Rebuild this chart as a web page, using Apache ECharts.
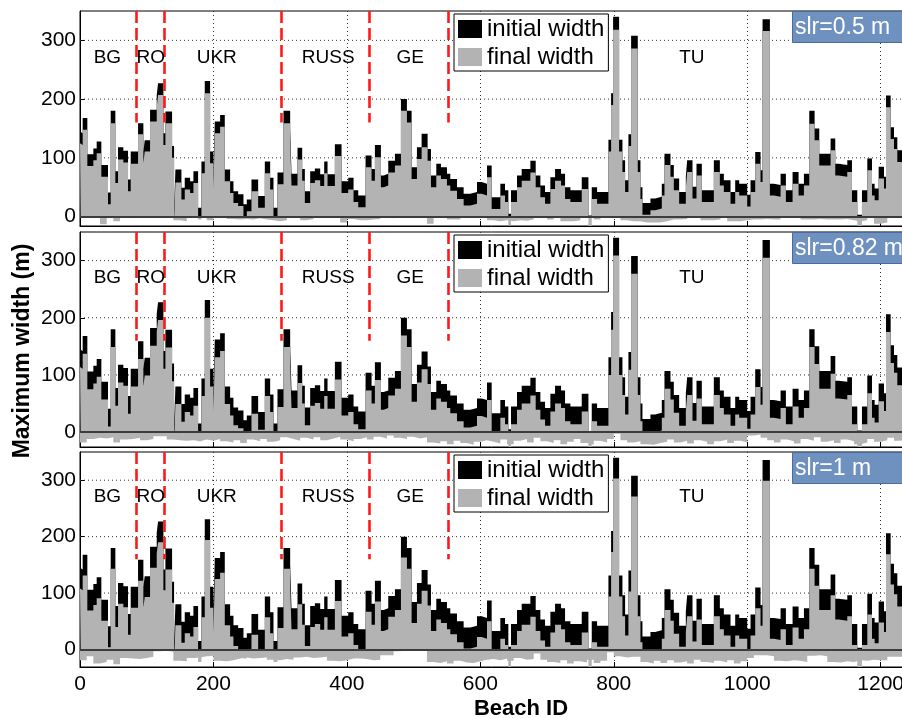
<!DOCTYPE html>
<html><head><meta charset="utf-8">
<script src="https://cdn.jsdelivr.net/npm/echarts@6/dist/echarts.min.js"></script>
<style>html,body{margin:0;padding:0;background:#fff}#c{width:902px;height:718px}</style>
</head><body><div id="c"></div>
<script>
// Beach ID where each block of beaches starts
const segStart = [0,1,4,11,20,25,32,42,46,53,57,65,72,76,87,95,97,105,115,117,125,128,138,141,143,152,157,165,170,177,182,187,195,200,202,210,217,225,230,237,245,250,257,267,277,285,290,296,305,315,317,326,333,337,345,352,360,366,371,382,392,402,410,417,428,437,442,451,455,462,472,481,490,497,505,512,521,526,534,541,550,555,565,575,585,595,602,610,617,630,637,642,646,655,662,675,683,690,697,705,712,721,727,735,752,762,767,775,792,796,799,808,813,817,822,826,836,840,843,855,862,872,876,885,890,898,908,910,918,924,932,950,959,965,975,982,988,1000,1005,1012,1020,1023,1034,1040,1050,1058,1068,1077,1085,1093,1101,1108,1125,1132,1137,1150,1157,1165,1172,1180,1187,1191,1197,1205,1208,1215,1220,1225];
// initial maximum width (m)
const initialWidth = [145,142,168,106,116,128,88,41,180,77,118,112,63,111,159,111,130,182,207,227,142,179,120,12,80,49,66,60,77,15,94,231,111,66,162,173,80,60,43,38,21,29,63,35,94,66,15,75,180,151,73,117,81,43,77,82,72,94,72,123,60,66,45,36,104,81,122,70,73,95,107,200,180,84,118,141,115,70,90,84,73,64,50,39,42,59,56,87,33,56,45,5,45,70,81,95,70,53,42,67,81,73,50,45,67,2,50,42,131,210,340,131,96,62,140,308,96,50,23,31,34,56,107,88,65,42,68,96,51,90,45,96,73,62,42,62,56,37,62,110,79,336,56,54,73,45,76,56,73,180,150,107,133,90,88,96,45,3,45,99,56,48,85,68,206,152,135,113];
// final width, slr = 0.5 m
const finalWidth05 = [125,122,148,86,96,108,68,21,159,57,97,92,43,90,140,91,111,162,187,207,122,159,100,-8,58,29,46,40,57,-5,74,210,91,46,142,153,60,40,23,18,1,9,43,15,74,46,-5,55,159,131,53,97,61,23,57,62,52,74,52,103,40,46,25,16,84,61,101,50,53,75,87,180,160,64,98,118,95,50,70,64,53,44,30,19,22,39,36,67,13,36,25,-15,25,50,61,75,50,33,22,47,61,53,30,25,47,-18,30,22,111,190,318,111,76,42,120,286,76,30,3,11,14,36,88,68,45,22,48,76,31,70,25,76,53,42,22,42,36,17,42,90,59,316,36,34,53,25,56,36,53,158,130,87,113,70,68,76,25,-17,25,79,36,28,65,48,186,132,115,93];
// final width, slr = 0.82 m
const finalWidth082 = [114,111,137,75,85,97,57,10,149,46,87,81,32,80,128,80,99,151,176,196,111,148,89,-19,49,18,35,29,46,-16,63,200,80,35,131,142,49,29,12,7,-10,-2,32,4,63,35,-16,44,149,120,42,86,50,12,46,51,41,63,41,92,29,35,14,5,73,50,91,39,42,64,76,169,149,53,87,110,84,39,59,53,42,33,19,8,11,28,25,56,2,25,14,-26,14,39,50,64,39,22,11,36,50,42,19,14,36,-29,19,11,100,179,309,100,65,31,109,277,65,19,-8,0,3,25,76,57,34,11,37,65,20,59,14,65,42,31,11,31,25,6,31,79,48,305,25,23,42,14,45,25,42,149,119,76,102,59,57,65,14,-28,14,68,25,17,54,37,175,121,104,82];
// final width, slr = 1 m
const finalWidth1 = [108,105,131,69,79,91,51,4,143,40,81,75,26,74,122,74,93,145,170,190,105,142,83,-25,43,12,29,23,40,-22,57,194,74,29,125,136,43,23,6,1,-16,-8,26,-2,57,29,-22,38,143,114,36,80,44,6,40,45,35,57,35,86,23,29,8,-1,67,44,85,33,36,58,70,163,143,47,81,104,78,33,53,47,36,27,13,2,5,22,19,50,-4,19,8,-32,8,33,44,58,33,16,5,30,44,36,13,8,30,-35,13,5,94,173,303,94,59,25,103,271,59,13,-14,-6,-3,19,70,51,28,5,31,59,14,53,8,59,36,25,5,25,19,0,25,73,42,299,19,17,36,8,39,19,36,143,113,70,96,53,51,59,8,-34,8,62,19,11,48,31,169,115,98,76];

// narrow beaches with negative final width, per 10-beach bin
const negBinStart = [0,10,20,30,40,50,60,70,80,90,100,110,120,130,140,150,160,170,180,190,200,210,220,230,240,250,260,270,280,290,300,310,320,330,340,350,360,370,380,390,400,410,420,430,440,450,460,470,480,490,500,510,520,530,540,550,560,570,580,590,600,610,620,630,640,650,660,670,680,690,700,710,720,730,740,750,760,770,780,790,800,810,820,830,840,850,860,870,880,890,900,910,920,930,940,950,960,970,980,990,1000,1010,1020,1030,1040,1050,1060,1070,1080,1090,1100,1110,1120,1130,1140,1150,1160,1170,1180,1190,1200,1210,1220,1230];
const negFinal05 = [0,0,0,-13,0,-8,0,0,0,0,0,0,0,0,-6,-8,0,0,0,-6,0,0,-4,-5,-4,-5,-3,-5,-6,-8,-6,0,0,-6,-4,0,0,0,0,-10,-4,-6,-6,-5,-4,0,-3,0,0,0,0,0,-12,0,0,-5,-5,0,0,0,0,-6,-8,-6,-8,-6,-7,-5,0,0,-5,0,-8,-8,-6,0,0,-5,0,0,0,-6,-8,-8,-10,-10,-10,-8,-5,-5,-4,0,0,-6,-6,-5,0,-8,-8,-6,-5,-5,-4,-5,-5,0,0,0,-5,-5,-4,-5,-5,-5,-4,-6,-8,-6,0,-12,-10,0,0,0];
const negFinal082 = [-18,-12,-10,-11,-9,-18,-13,-12,-10,-14,-12,-7,-7,-13,-14,-15,-14,-16,-13,-15,-12,-16,-18,-14,-19,-13,-16,-12,-17,-14,-9,-12,-15,-10,-13,-9,-14,-11,-8,-13,-16,-12,-9,-13,-8,-11,-6,-10,-12,-8,-11,-9,-18,-20,-16,-21,-15,-19,-22,-17,-14,-17,-20,-13,-21,-15,-12,-18,-10,-16,-19,-14,-21,-17,-12,-19,-22,-15,-18,-12,-3,-14,-18,-16,-21,-22,-19,-17,-13,-18,-15,-20,-14,-17,-21,-16,-13,-19,-15,-18,-6,-4,-10,-14,-18,-13,-16,-20,-12,-15,-9,-17,-14,-19,-13,-16,-21,-18,-12,-17,-14,-10,-15,-13];
const negFinal1 = [-19,-12,-25,-22,-18,-26,-15,-16,-17,-15,-13,-3,-2,-4,-20,-21,-15,-14,-12,-11,-20,-21,-19,-16,-14,-16,-15,-14,-18,-19,-17,-18,-14,-13,-15,-14,-13,-20,-21,-19,-16,-16,-17,-19,-18,-10,-10,-3,-1,-1,-2,-2,-22,-24,-21,-25,-20,-23,-24,-21,-18,-17,-19,-16,-20,-15,-18,-17,-7,-18,-22,-24,-19,-25,-21,-23,-18,-24,-20,-5,-12,-14,-13,-13,-22,-25,-20,-24,-19,-23,-21,-25,-18,-22,-24,-20,-23,-19,-25,-21,-15,-10,-10,-12,-20,-21,-19,-20,-22,-11,-10,-12,-22,-23,-21,-22,-19,-20,-18,-19,-19,-13,-13,-13];

const countryNames = ['BG','RO','UKR','RUSS','GE','TU'];
const countryCenters = [41,106,205,372,495,917];
const countryBorders = [85,126,301,434,552];
const slrLabels = ['slr=0.5 m','slr=0.82 m','slr=1 m'];
const yTicks = [0,100,200,300];
const xTicks = [0,200,400,600,800,1000,1200];
const finals = [finalWidth05, finalWidth082, finalWidth1];
const negs = [negFinal05, negFinal082, negFinal1];

// layout
const FONT = '"Liberation Sans", Arial, sans-serif';
const panelTops = [11, 232, 452];
const panelHeight = 215;
const yMins = [-16, -26, -31];
const X_MAX = 1235;

function steps(xs, vs) {
  const d = xs.map((x, i) => [x, vs[i]]);
  d.push([X_MAX, vs[vs.length - 1]]);
  return d;
}
const dotted = {color: '#333', width: 1, type: [1, 3]};

const grid = [], xAxis = [], yAxis = [], series = [], legend = [], title = [];
for (let k = 0; k < 3; k++) {
  grid.push({left: 80, right: -2, top: panelTops[k], height: panelHeight,
    outerBoundsMode: 'none', containLabel: false,
    show: true, borderColor: '#000', borderWidth: 1, backgroundColor: 'transparent'});
  xAxis.push({type: 'value', gridIndex: k, min: 0, max: X_MAX, interval: 200,
    axisLine: {show: true, onZero: false, lineStyle: {color: '#000', width: 1}},
    axisTick: {show: true, inside: true, length: 5, lineStyle: {color: '#000'}, customValues: xTicks},
    axisLabel: {show: k === 2, fontSize: 21, color: '#000', margin: 7, fontFamily: FONT,
      customValues: xTicks, formatter: v => String(v)},
    splitLine: {show: true, lineStyle: dotted}});
  yAxis.push({type: 'value', gridIndex: k, min: yMins[k], max: 350,
    axisLine: {show: true, onZero: false, lineStyle: {color: '#000', width: 1}},
    axisTick: {show: true, inside: true, length: 5, lineStyle: {color: '#000'}, customValues: yTicks},
    axisLabel: {fontSize: 21, color: '#000', margin: 4, fontFamily: FONT,
      customValues: yTicks, formatter: v => String(v)},
    splitLine: {show: false}});

  // horizontal dotted grid lines at the y tick values (behind the data)
  yTicks.filter(t => t > 0).forEach(t => {
    series.push({type: 'line', name: 'grid' + t, xAxisIndex: k, yAxisIndex: k, silent: true,
      symbol: 'none', z: 1, data: [[0, t], [X_MAX, t]], lineStyle: dotted});
  });

  series.push({type: 'line', name: 'initial width', xAxisIndex: k, yAxisIndex: k,
    step: 'end', symbol: 'none', data: steps(segStart, initialWidth),
    color: '#000', itemStyle: {color: '#000'},
    lineStyle: {opacity: 0, width: 0}, areaStyle: {color: '#000', opacity: 1}, z: 2,
    markLine: {silent: true, symbol: ['none', 'none'], label: {show: false},
      lineStyle: {color: '#ff1a1a', width: 2.6, type: [12, 5]},
      data: countryBorders.map(b => [{coord: [b, 350]}, {coord: [b, 160]}])}});
  series.push({type: 'line', name: 'final width', xAxisIndex: k, yAxisIndex: k,
    step: 'end', symbol: 'none', data: steps(segStart, finals[k]),
    color: '#b3b3b3', itemStyle: {color: '#b3b3b3'},
    lineStyle: {opacity: 0, width: 0}, areaStyle: {color: '#b3b3b3', opacity: 1}, z: 3,
    markLine: {silent: true, symbol: ['none', 'none'], label: {show: false},
      lineStyle: {color: '#3c3c3c', width: 2, type: 'solid'},
      data: [{yAxis: 0}]}});
  series.push({type: 'line', name: 'final width', xAxisIndex: k, yAxisIndex: k,
    step: 'end', symbol: 'none', data: steps(negBinStart, negs[k]),
    color: '#b3b3b3', itemStyle: {color: '#b3b3b3'},
    lineStyle: {opacity: 0, width: 0}, areaStyle: {color: '#b3b3b3', opacity: 1}, z: 3});
  series.push({type: 'scatter', name: 'countries', xAxisIndex: k, yAxisIndex: k,
    symbolSize: 0, itemStyle: {color: '#000', opacity: 1}, silent: true, z: 6,
    data: countryNames.map((n, i) => ({name: n, value: [countryCenters[i], 270]})),
    label: {show: true, position: 'inside', formatter: '{b}', fontSize: 19, color: '#000',
      opacity: 1, textBorderWidth: 0, fontFamily: FONT}});

  legend.push({data: ['initial width', 'final width'], left: 454, top: panelTops[k] + 3,
    orient: 'vertical', icon: 'rect', itemWidth: 24, itemHeight: 18, itemGap: 4,
    padding: [3, 4, 2, 4], borderColor: '#000', borderWidth: 1, backgroundColor: '#fff',
    selectedMode: false, textStyle: {fontSize: 24, color: '#000', fontFamily: FONT}});
  title.push({text: slrLabels[k], left: 792, top: panelTops[k],
    backgroundColor: '#6f91c0', borderColor: '#4b6b9a', borderWidth: 1, padding: [5, 60, 4, 3],
    textStyle: {color: '#fff', fontSize: 23, fontWeight: 'normal', fontFamily: FONT, lineHeight: 23}});
}

const chart = echarts.init(document.getElementById('c'));
chart.setOption({
  animation: false,
  textStyle: {fontFamily: FONT},
  grid, xAxis, yAxis, series, legend, title,
  graphic: [
    {type: 'text', x: 23, y: 351, rotation: Math.PI / 2, z: 10,
      style: {text: 'Maximum width (m)', font: 'bold 23px ' + FONT, fill: '#000',
        align: 'center', verticalAlign: 'middle', textAlign: 'center', textVerticalAlign: 'middle'}},
    {type: 'text', x: 521, y: 709, z: 10,
      style: {text: 'Beach ID', font: 'bold 22px ' + FONT, fill: '#000',
        align: 'center', verticalAlign: 'middle', textAlign: 'center', textVerticalAlign: 'middle'}}
  ]
});
</script></body></html>
